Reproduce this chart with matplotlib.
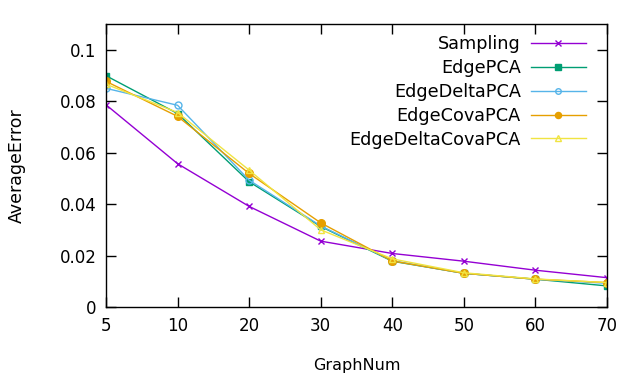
import matplotlib
matplotlib.use("Agg")
import matplotlib.pyplot as plt

categories = ["5", "10", "20", "30", "40", "50", "60", "70"]
sampling = [0.0786, 0.0557, 0.0391, 0.0256, 0.0208, 0.0178, 0.0143, 0.0114]
edge_pca = [0.0899, 0.0752, 0.0487, 0.0313, 0.0178, 0.0131, 0.0108, 0.0082]
edge_delta_pca = [0.0850, 0.0784, 0.0493, 0.0315, 0.0180, 0.0131, 0.0108, 0.0092]
edge_cova_pca = [0.0877, 0.0741, 0.0519, 0.0327, 0.0179, 0.0131, 0.0108, 0.0095]
edge_delta_cova_pca = [0.0866, 0.0756, 0.0532, 0.0300, 0.0187, 0.0133, 0.0109, 0.0095]
yticks = [0, 0.02, 0.04, 0.06, 0.08, 0.1]
ytick_labels = ["0", "0.02", "0.04", "0.06", "0.08", "0.1"]

plt.rcParams['font.family'] = ['DejaVu Sans']
fig = plt.figure(figsize=(6.4, 3.84), dpi=100)
ax = fig.add_axes([106/640, (384-307)/384, (607-106)/640, (307-24)/384])

x = list(range(len(categories)))
series = [
    ("Sampling", sampling, "#9400d3", dict(marker="x", ms=5, mfc="#9400d3")),
    ("EdgePCA", edge_pca, "#009e73", dict(marker="s", ms=5, mfc="#009e73")),
    ("EdgeDeltaPCA", edge_delta_pca, "#56b4e9", dict(marker="o", ms=5, mfc="none")),
    ("EdgeCovaPCA", edge_cova_pca, "#e69f00", dict(marker="o", ms=5.5, mfc="#e69f00")),
    ("EdgeDeltaCovaPCA", edge_delta_cova_pca, "#f0e442", dict(marker="^", ms=5, mfc="none")),
]
for name, vals, col, mk in series:
    ax.plot(x, vals, color=col, lw=1, label=name, mec=col, mew=1, **mk)

ax.set_xlim(0, len(categories) - 1)
ax.set_ylim(0, 0.11)
ax.set_xticks(x)
ax.set_xticklabels(categories)
ax.set_yticks(yticks)
ax.set_yticklabels(ytick_labels)
ax.tick_params(direction="in", length=7, width=1, labelsize=12, top=True, right=True, pad=7)
for s in ax.spines.values():
    s.set_linewidth(1)
ax.set_xlabel("GraphNum", fontsize=11.5, labelpad=17)
ax.set_ylabel("AverageError", fontsize=12.5, labelpad=24)

leg = ax.legend(loc="upper right", bbox_to_anchor=(0.958, 0.96), frameon=False,
                fontsize=12.7, markerfirst=False, handlelength=3.12, handletextpad=0.57,
                labelspacing=0.33, borderaxespad=0.0, borderpad=0.0, markerscale=0.8)

fig.savefig("out.png", dpi=100)
